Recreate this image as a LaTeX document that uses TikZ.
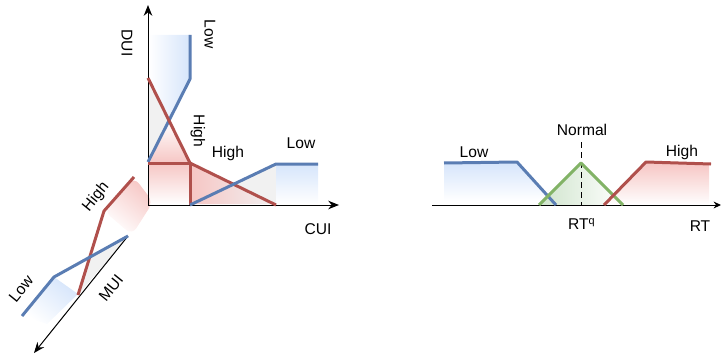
\documentclass[tikz,border=0pt]{standalone}
\usepackage{fontspec}
\setmainfont{Liberation Sans}
\usetikzlibrary{arrows.meta}

\definecolor{mfblue}{HTML}{5A7DB3}
\definecolor{mfred}{HTML}{B0504C}
\definecolor{mfgreen}{HTML}{82B366}
\definecolor{lightblue}{HTML}{D6E5FB}
\definecolor{lightred}{HTML}{F6C6C4}
\definecolor{lightgreen}{HTML}{CFE4CC}
\definecolor{lightgray}{HTML}{F1F1F1}

\begin{document}
\begin{tikzpicture}[x=0.5pt,y=-0.5pt,line width=0.5pt,>={Stealth[length=1.9mm,width=1.5mm]},
  lbl/.style={inner sep=0pt,font=\fontsize{7.8}{9}\selectfont},
  mf/.style={line width=1.5pt,line join=round}]
  \useasboundingbox (0,0) rectangle (721,358);

  % three input axes
  \coordinate (O) at (148,205);
  \coordinate (duitip) at (148,5);
  \coordinate (cuitip) at (339,205);
  \coordinate (muistart) at (128,236);
  \coordinate (muitip) at (34,353);

  % fills, DUI
  \shade[left color=white,right color=lightblue] (149,35) -- (190,35) -- (190,79) -- (149,162) -- cycle;
  \fill[lightgray] (149,79) -- (190,163) -- (149,163) -- cycle;
  \shade[top color=white,bottom color=lightred] (169,121) -- (190,163) -- (149,163) -- cycle;
  % fills, CUI
  \shade[top color=lightred,bottom color=white] (149,163) rectangle (190,204);
  \fill[lightgray] (190,204) -- (276,164) -- (276,204) -- cycle;
  \shade[left color=lightred,right color=lightgray] (190,163) -- (276,204) -- (233,204) -- (190,204) -- cycle;
  \shade[top color=lightblue,bottom color=white] (276,164) -- (318,164) -- (318,204) -- (276,204) -- cycle;
  % fills, MUI
  \fill[lightgray] (128,236) -- (90,257) -- (78,295) -- cycle;
  \shade[top color=lightred,middle color=lightred!70,bottom color=white,shading angle=-39,rounded corners=4pt]
    (134,177) -- (153,202) -- (132,235) -- (104,211) -- cycle;
  \shade[top color=lightblue,bottom color=white,shading angle=-39]
    (54,277) -- (78,294) -- (47,324) -- (22,316) -- cycle;

  \draw[->] (O) -- (duitip);
  \draw[->] (O) -- (cuitip);
  \draw[->] (muistart) -- (muitip);

  % membership functions
  \draw[mf,mfblue] (148,162) -- (190,79) -- (190,35);
  \draw[mf,mfred] (148,78) -- (190,163) -- (276,205);
  \draw[mf,mfred] (148,163) -- (190,163) -- (190,205);
  \draw[mf,mfblue] (190,205) -- (276,164) -- (318,164);
  \draw[mf,mfred] (134,177) -- (104,211) -- (78,295);
  \draw[mf,mfblue] (128,236) -- (54,277) -- (22,316);

  \node[lbl,rotate=-90] (dui) at (127,43) {DUI};
  \node[lbl,rotate=-90] (duilow) at (210,34) {Low};
  \node[lbl,rotate=-90] (duihigh) at (198,131) {High};
  \node[lbl] (cuihigh) at (228,153) {High};
  \node[lbl] (cuilow) at (301,143) {Low};
  \node[lbl] (cui) at (318,229) {CUI};
  \node[lbl,rotate=51] (muihigh) at (96,197) {High};
  \node[lbl,rotate=51] (muilow) at (21,289) {Low};
  \node[lbl,rotate=51] (mui) at (111,288) {MUI};

  % response time
  \coordinate (rtstart) at (432,205);
  \coordinate (rttip) at (721,205);
  \coordinate (peak) at (581,163);
  \coordinate (peaktop) at (581,142);

  \shade[top color=lightblue,bottom color=white] (444,163) -- (517,163) -- (552,201) -- (444,201) -- cycle;
  \shade[left color=lightgreen,right color=white] (539,205) -- (peak) -- (623,205) -- cycle;
  \shade[top color=lightred,bottom color=white] (604,205) -- (646,163) -- (709,163) -- (709,205) -- cycle;

  \draw[->,>={Stealth[length=1.3mm,width=1.2mm]}] (rtstart) -- (rttip);
  \draw[densely dashed] (peaktop) -- (peak) -- (581,205);

  \draw[mf,mfblue] (444,163) -- (517,162) -- (556,205);
  \draw[mf,mfgreen] (539,205) -- (peak) -- (623,205);
  \draw[mf,mfred] (604,205) -- (646,162) -- (711,164);

  \node[lbl] (rtlow) at (474,152) {Low};
  \node[lbl] (rtnormal) at (582,130) {Normal};
  \node[lbl] (rthigh) at (682,152) {High};
  \node[lbl] (rtq) at (582,224) {RT\textsuperscript{q}};
  \node[lbl] (rt) at (700,226) {RT};
\end{tikzpicture}
\end{document}
